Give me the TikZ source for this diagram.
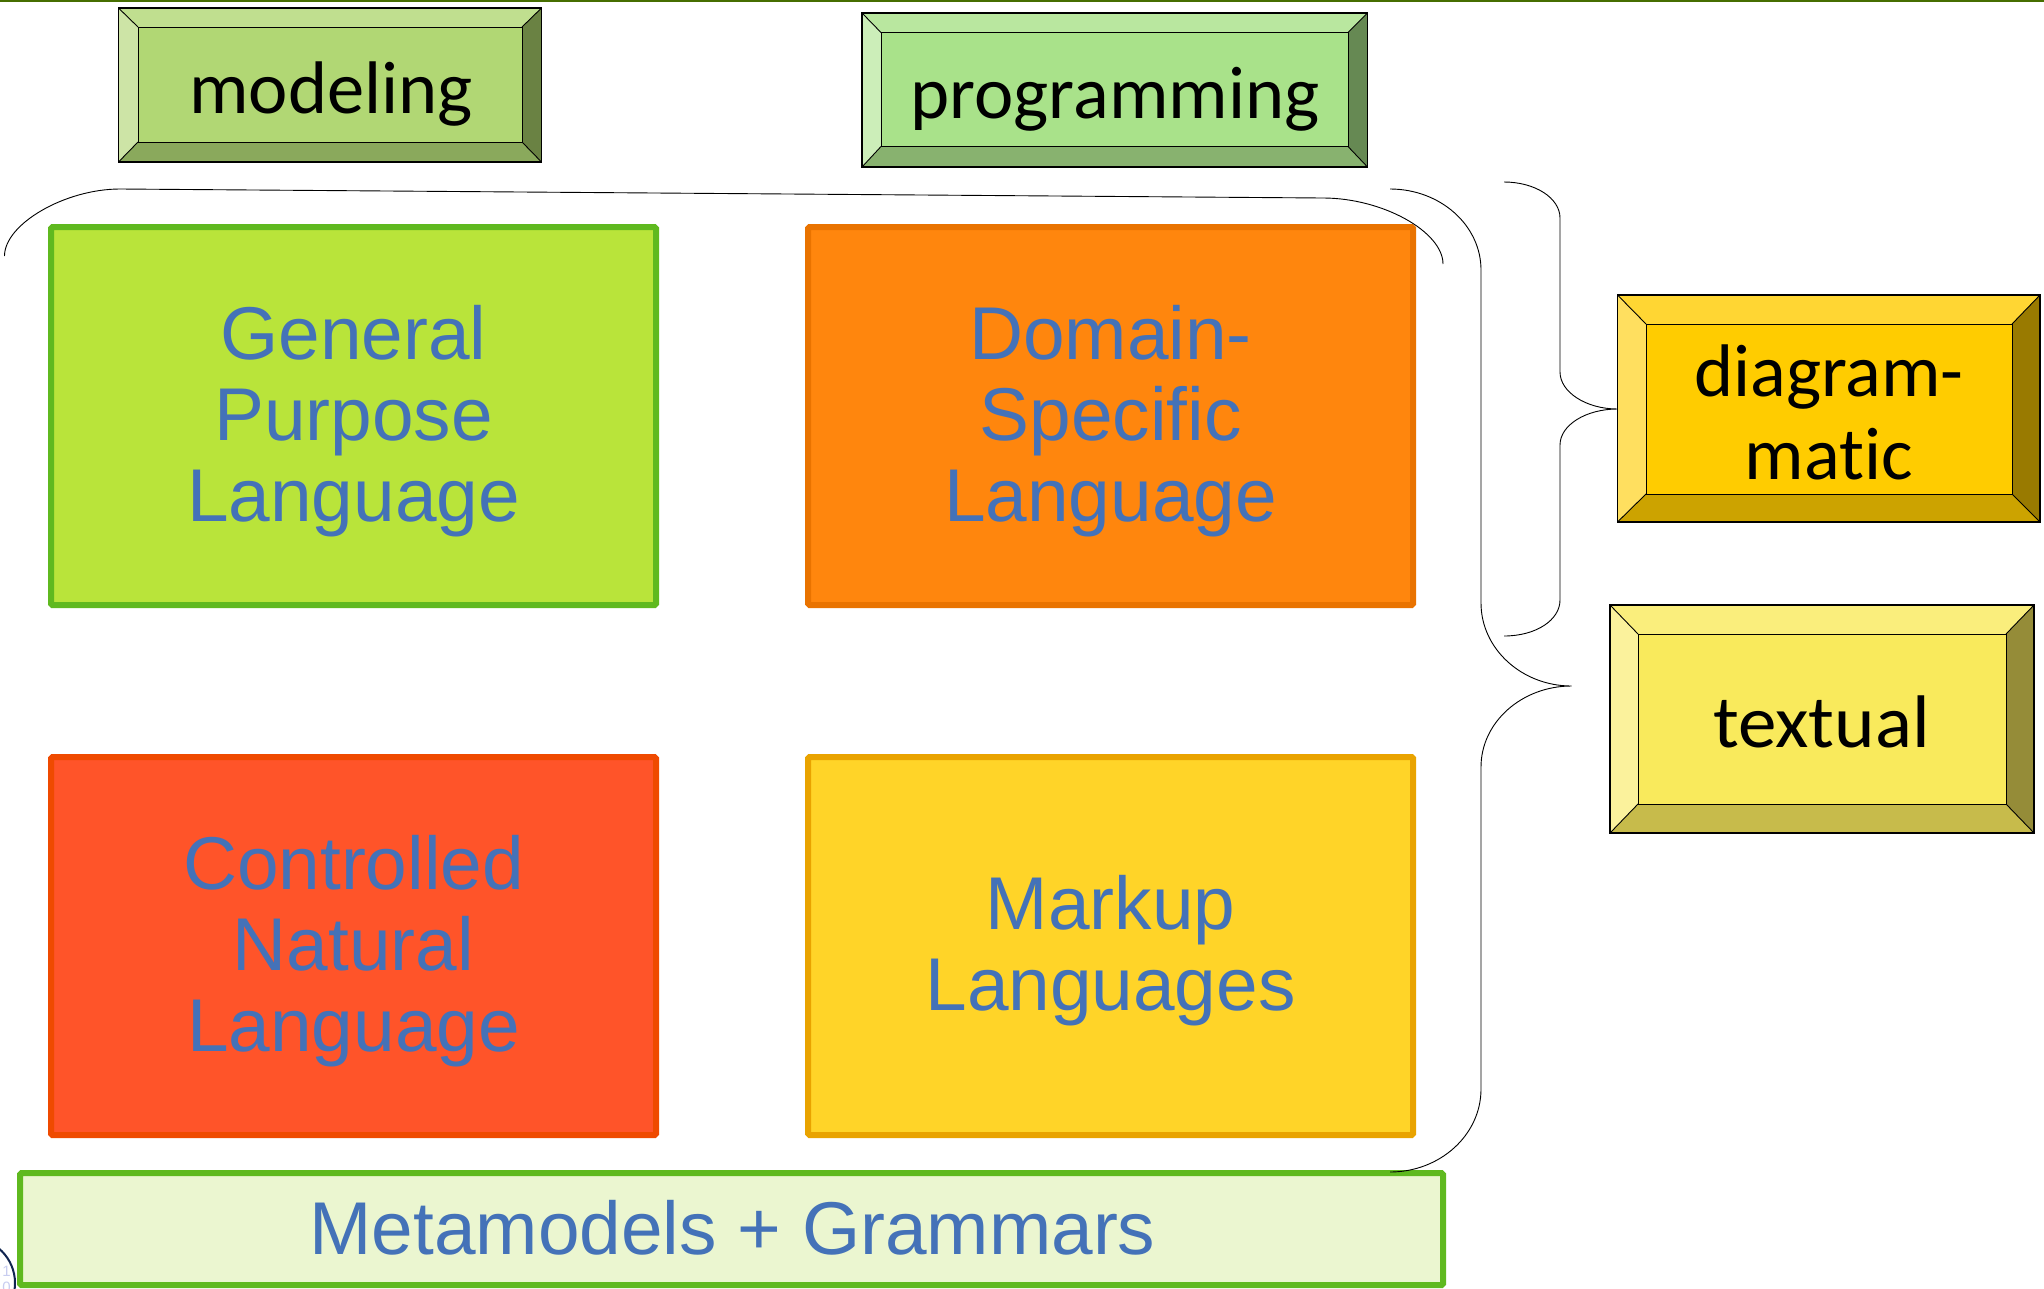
\documentclass[tikz,border=0pt]{standalone}
\usepackage{graphicx}
\usepackage{fontspec}
\setmainfont{Liberation Sans}
\newfontfamily\lblfont[Ligatures=NoCommon]{Carlito}
\definecolor{txtblue}{HTML}{4472B8}
\definecolor{topline}{RGB}{70,110,0}
\definecolor{gplfill}{RGB}{185,228,58}
\definecolor{greenedge}{RGB}{95,185,31}
\definecolor{dslfill}{RGB}{255,134,13}
\definecolor{dsledge}{RGB}{233,115,0}
\definecolor{cnlfill}{RGB}{255,84,41}
\definecolor{cnledge}{RGB}{239,74,0}
\definecolor{mupfill}{RGB}{255,212,40}
\definecolor{mupedge}{RGB}{233,163,0}
\definecolor{mgfill}{RGB}{235,246,208}
\definecolor{badge}{RGB}{16,37,80}
\definecolor{digit}{RGB}{200,205,240}
\tikzset{
  x=1pt,y=-1pt,
  panel/.style={draw,line width=6pt,rounded corners=1.5pt,inner sep=0pt,outer sep=0pt},
  paneltext/.style={inner sep=0pt,align=center,text=txtblue,font=\fontsize{74.8}{81}\selectfont},
  bevellabel/.style={inner sep=0pt,align=center,text=black,font=\lblfont\fontsize{74.5}{83}\selectfont},
  brace/.style={draw=black,line width=0.9pt},
  digitlabel/.style={inner sep=0pt,text=digit,font=\fontsize{15}{15}\selectfont}
}
\newcommand{\bevelbox}[9]{%
  \coordinate (#9o1) at (#1,#2); \coordinate (#9o2) at (#3,#2);
  \coordinate (#9o3) at (#3,#4); \coordinate (#9o4) at (#1,#4);
  \coordinate (#9i1) at (#5,#6); \coordinate (#9i2) at (#7,#6);
  \coordinate (#9i3) at (#7,#8); \coordinate (#9i4) at (#5,#8);
  \fill[#9top] (#9o1)--(#9o2)--(#9i2)--(#9i1)--cycle;
  \fill[#9left] (#9o1)--(#9i1)--(#9i4)--(#9o4)--cycle;
  \fill[#9right] (#9o2)--(#9o3)--(#9i3)--(#9i2)--cycle;
  \fill[#9bot] (#9o4)--(#9i4)--(#9i3)--(#9o3)--cycle;
  \fill[#9face] (#9i1) rectangle (#9i3);
  \draw[line width=0.9pt] (#9o1)--(#9i1) (#9o2)--(#9i2) (#9o3)--(#9i3) (#9o4)--(#9i4);
  \draw[line width=0.9pt] (#9i1) rectangle (#9i3);
  \draw[line width=1.1pt] (#9o1) rectangle (#9o3);
}
\definecolor{mtop}{HTML}{C0DF8F}\definecolor{mleft}{HTML}{CDE4A6}\definecolor{mright}{HTML}{6A8243}\definecolor{mbot}{HTML}{8AA95C}\definecolor{mface}{HTML}{B1D774}
\definecolor{ptop}{HTML}{B9E79F}\definecolor{pleft}{HTML}{CCEEB9}\definecolor{pright}{HTML}{668953}\definecolor{pbot}{HTML}{88B26F}\definecolor{pface}{HTML}{A9E28A}
\definecolor{dtop}{HTML}{FFD633}\definecolor{dleft}{HTML}{FFDF5F}\definecolor{dright}{HTML}{997A00}\definecolor{dbot}{HTML}{CCA300}\definecolor{dface}{HTML}{FFCC00}
\definecolor{ttop}{HTML}{FAEE7C}\definecolor{tleft}{HTML}{FBF29C}\definecolor{tright}{HTML}{958C38}\definecolor{tbot}{HTML}{C7BB4B}\definecolor{tface}{HTML}{F9EA5C}
\begin{document}
\begin{tikzpicture}
\useasboundingbox (0,0) rectangle (2044,1288);
\begin{scope}
\clip (0,0) rectangle (2044,1288);
\fill[white] (0,0) rectangle (2044,1288);
\fill[topline] (0,0) rectangle (2044,2);
% little circle, bottom left
\draw[draw=badge,line width=2pt] (-30,1283) circle (45);
\node[digitlabel] (digA) at (6.5,1271) {1};
\node[digitlabel] (digB) at (6.5,1287) {0};

\node[panel,fill=gplfill,draw=greenedge,minimum width=605pt,minimum height=378pt] (gpl) at (353.5,416) {};
\node[panel,fill=dslfill,draw=dsledge,minimum width=605pt,minimum height=378pt] (dsl) at (1110.5,416) {};
\node[panel,fill=cnlfill,draw=cnledge,minimum width=605pt,minimum height=378pt] (cnl) at (353.5,946) {};
\node[panel,fill=mupfill,draw=mupedge,minimum width=605pt,minimum height=378pt] (mup) at (1110.5,946) {};
\node[panel,fill=mgfill,draw=greenedge,minimum width=1423pt,minimum height=112pt] (mg) at (731.5,1229) {};
\node[paneltext] (gpltext) at ([yshift=-5pt]gpl.center) {General\\Purpose\\Language};
\node[paneltext] (dsltext) at ([yshift=-5pt]dsl.center) {Domain-\\Specific\\Language};
\node[paneltext] (cnltext) at ([yshift=-5pt]cnl.center) {Controlled\\Natural\\Language};
\node[paneltext] (muptext) at ([yshift=-5pt]mup.center) {Markup\\Languages};
\node[paneltext] (mgtext) at ([xshift=1pt,yshift=1pt]mg.center) {Metamodels + Grammars};

\bevelbox{118.5}{8}{541.5}{162}{138}{27}{522}{142}{m}
\bevelbox{862}{13}{1367.5}{167}{881}{32.5}{1348}{146.5}{p}
\bevelbox{1617.5}{295}{2040}{522}{1646}{324}{2012}{494}{d}
\bevelbox{1610}{605}{2034}{833}{1638}{634}{2006}{804}{t}
\node[bevellabel,anchor=base] (modeling) at (331,113) {modeling};
\node[bevellabel,anchor=base] (programming) at (1115,118) {programming};
\node[bevellabel] (diagram) at (1829,412.5) {diagram-\\matic};
\node[bevellabel,anchor=base] (textual) at (1821.5,747) {\scalebox{1.035}[1]{textual}};

% top brace
\coordinate (a1) at (4.5,256); \coordinate (a2) at (120,189); \coordinate (a3) at (1323,198); \coordinate (a4) at (1443,264);
\draw[brace] (a1) .. controls (4.5,224) and (65,189) .. (a2) -- (a3) .. controls (1383,198) and (1443,232) .. (a4);
% large right brace
\coordinate (b1) at (1390,189); \coordinate (b2) at (1481,270); \coordinate (b3) at (1481,603); \coordinate (b4) at (1571.5,686);
\coordinate (b5) at (1481,767); \coordinate (b6) at (1481,1089); \coordinate (b7) at (1390,1172);
\draw[brace] (b1) .. controls (1440,189) and (1481,225) .. (b2) -- (b3) .. controls (1481,649) and (1522,686) .. (b4)
  .. controls (1522,686) and (1481,722) .. (b5) -- (b6) .. controls (1481,1135) and (1440,1172) .. (b7);
% second right brace
\coordinate (c1) at (1504,182); \coordinate (c2) at (1560,218); \coordinate (c3) at (1560,372); \coordinate (c4) at (1617.5,409);
\coordinate (c5) at (1560,445); \coordinate (c6) at (1560,600); \coordinate (c7) at (1504,636);
\draw[brace] (c1) .. controls (1535,182) and (1560,198) .. (c2) -- (c3) .. controls (1560,392) and (1586,409) .. (c4)
  .. controls (1586,409) and (1560,425) .. (c5) -- (c6) .. controls (1560,620) and (1536,636) .. (c7);
\end{scope}
\end{tikzpicture}
\end{document}
